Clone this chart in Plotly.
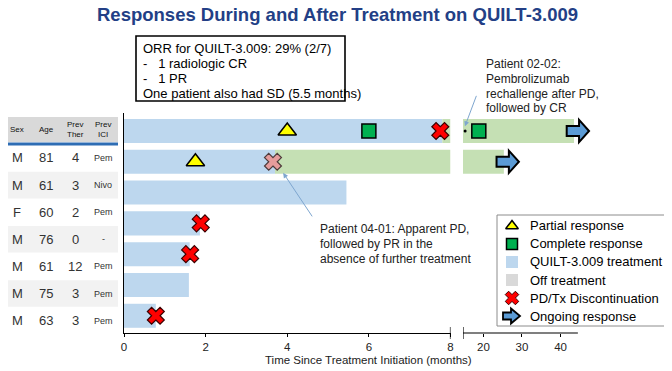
import plotly.graph_objects as go

# ---------------- data ----------------
table_headers = ["Sex", "Age", "Prev<br>Ther", "Prev<br>ICI"]
sex = ["M", "M", "F", "M", "M", "M", "M"]
age = [81, 61, 60, 76, 61, 75, 63]
prev_ther = [4, 3, 2, 0, 12, 3, 3]
prev_ici = ["Pem", "Nivo", "Pem", "-", "Pem", "Pem", "Pem"]

rows = [0, 1, 2, 3, 4, 5, 6]
tx_end = [7.8, 3.7, 5.45, 1.86, 1.61, 1.59, 0.78]          # QUILT-3.009 treatment (months)

resp_rows = [0, 1]                                        # response continuing after treatment
resp_start = [7.8, 3.7]
resp_end = [43.5, 25.3]

pr_rows, pr_time = [0, 1], [4.0, 1.75]                    # partial response
cr_rows, cr_time = [0, 0], [6.0, 18.8]                    # complete response
pd_rows, pd_time = [0, 3, 4, 6], [7.75, 1.88, 1.62, 0.78]  # PD / Tx discontinuation
apd_rows, apd_time = [1], [3.65]                          # apparent PD (pseudo-progression)
rechal_rows, rechal_time = [0], [15.25]                   # pembrolizumab rechallenge
ongoing_rows, ongoing_end = [0, 1], [43.5, 25.3]          # ongoing response

ticks_panel1 = [0, 2, 4, 6, 8]
ticks_panel2 = [20, 30, 40]
panel1_max = 8
panel2_min, panel2_axis_end = 14.7, 44.5

legend_labels = ["Partial response", "Complete response", "QUILT-3.009 treatment",
                 "Off treatment", "PD/Tx Discontinuation", "Ongoing response"]

orr_lines = ["ORR for QUILT-3.009: 29% (2/7)",
             "-\u00a0\u00a0\u00a01 radiologic CR",
             "-\u00a0\u00a0\u00a01 PR",
             "One patient also had SD (5.5 months)"]
note_0202 = ["Patient 02-02:", "Pembrolizumab", "rechallenge after PD,", "followed by CR"]
note_0401 = ["Patient 04-01: Apparent PD,", "followed by PR in the", "absence of further treatment"]

# ---------------- style ----------------
W, H = 672, 371
OFF = 8  # page body margin of the viewer
FONT = "Arial, Liberation Sans, sans-serif"
BLUE = "#BDD7EE"
GREEN = "#C5E0B4"
GREY = "#D9D9D9"
TXT = "#222222"
BARW = 0.78


def px(v):
    return (v - OFF) / W


def py(v):
    return 1 - (v - OFF) / H


fig = go.Figure()

# treatment bars
fig.add_trace(go.Bar(orientation="h", y=rows, x=tx_end, base=[0] * len(rows), width=BARW,
                     marker=dict(color=BLUE, line=dict(width=0)), xaxis="x", yaxis="y",
                     hoverinfo="skip"))
# post-treatment response bars, panel 1
fig.add_trace(go.Bar(orientation="h", y=resp_rows, base=resp_start,
                     x=[min(e, panel1_max) - s for s, e in zip(resp_start, resp_end)], width=BARW,
                     marker=dict(color=GREEN, line=dict(width=0)), xaxis="x", yaxis="y",
                     hoverinfo="skip"))
# panel 2
fig.add_trace(go.Bar(orientation="h", y=resp_rows, base=[panel2_min] * len(resp_rows),
                     x=[e - panel2_min for e in resp_end], width=BARW,
                     marker=dict(color=GREEN, line=dict(width=0)), xaxis="x2", yaxis="y",
                     hoverinfo="skip"))


def add_markers(times, rws, **mk):
    p1 = [(t, r) for t, r in zip(times, rws) if t <= panel1_max]
    p2 = [(t, r) for t, r in zip(times, rws) if t > panel1_max]
    for pts, ax in ((p1, "x"), (p2, "x2")):
        if pts:
            fig.add_trace(go.Scatter(x=[p[0] for p in pts], y=[p[1] for p in pts], mode="markers",
                                     marker=mk, xaxis=ax, yaxis="y", cliponaxis=False,
                                     hoverinfo="skip"))


add_markers(pr_time, pr_rows, symbol="triangle-up", size=16, color="#FFFF00",
            line=dict(color="black", width=1.5))
add_markers(cr_time, cr_rows, symbol="square", size=14, color="#00B050",
            line=dict(color="black", width=1.5))
add_markers(pd_time, pd_rows, symbol="x", size=15, color="#FF0000",
            line=dict(color="#3a0000", width=1.2))
add_markers(apd_time, apd_rows, symbol="x", size=15, color="#E59C9C",
            line=dict(color="#4d3b3b", width=1.2))
add_markers(rechal_time, rechal_rows, symbol="circle", size=3, color="black")

shapes = []
annotations = []


def text(x, y, t, size, color=TXT, xanchor="center", xref="paper", yref="paper"):
    annotations.append(dict(xref=xref, yref=yref, x=x, y=y, text=t, showarrow=False,
                            xanchor=xanchor, yanchor="middle", font=dict(size=size, color=color)))


# ongoing-response block arrows
for r, e in zip(ongoing_rows, ongoing_end):
    s, hb, tip = e - 1.9, e + 1.3, e + 3.9
    a, b = 0.16, 0.36
    path = (f"M{s},{r - a} L{hb},{r - a} L{hb},{r - b} L{tip},{r} L{hb},{r + b} "
            f"L{hb},{r + a} L{s},{r + a} Z")
    shapes.append(dict(type="path", xref="x2", yref="y", path=path, fillcolor="#5B9BD5",
                       line=dict(color="black", width=2), layer="above"))

# panel-2 axis line + break marks
shapes.append(dict(type="line", xref="x2", yref="paper", x0=panel2_min, x1=panel2_axis_end,
                   y0=py(333), y1=py(333), line=dict(color="black", width=1.2)))
shapes.append(dict(type="line", xref="x", yref="paper", x0=panel1_max, x1=panel1_max,
                   y0=py(327), y1=py(339), line=dict(color="black", width=1.2)))
shapes.append(dict(type="line", xref="x2", yref="paper", x0=panel2_min, x1=panel2_min,
                   y0=py(327), y1=py(339), line=dict(color="black", width=1.2)))

# ---------------- table ----------------
col_x = [17, 46, 75, 103]
shapes.append(dict(type="rect", xref="paper", yref="paper", x0=px(4), x1=px(118), y0=py(142),
                   y1=py(117), fillcolor=GREY, line=dict(width=0), layer="below"))
shapes.append(dict(type="line", xref="paper", yref="paper", x0=px(4), x1=px(118), y0=py(144),
                   y1=py(144), line=dict(color="#2E6DB4", width=3)))
for cx, h in zip(col_x, table_headers):
    text(px(cx), py(130), h, 8, "#111")
for i in range(len(rows)):
    cy = 158 + 27.1 * i
    if i % 2 == 1:
        shapes.append(dict(type="rect", xref="paper", yref="paper", x0=px(4), x1=px(118),
                           y0=py(cy + 13.3), y1=py(cy - 13.3), fillcolor="#F2F2F2",
                           line=dict(width=0), layer="below"))
    vals = [sex[i], str(age[i]), str(prev_ther[i]), prev_ici[i]]
    sizes = [13, 13, 13, 9]
    for cx, v, fs in zip(col_x, vals, sizes):
        text(px(cx), py(cy), v, fs, "#333")

# ---------------- ORR text box ----------------
shapes.append(dict(type="rect", xref="paper", yref="paper", x0=px(136), x1=px(345), y0=py(101),
                   y1=py(36), line=dict(color="black", width=1.6), fillcolor="white"))
for i, t in enumerate(orr_lines):
    text(px(141), py(48 + 15.3 * i), t, 13, "black", "left")

# ---------------- notes ----------------
for i, t in enumerate(note_0202):
    text(px(484), py(64 + 14.8 * i), t, 12, TXT, "left")
for i, t in enumerate(note_0401):
    text(px(318), py(229 + 15 * i), t, 12, TXT, "left")
annotations.append(dict(xref="x2", yref="y", x=rechal_time[0] - 0.05, y=rechal_rows[0] - 0.15,
                        ax=12, ay=-32, text="", showarrow=True, arrowhead=2, arrowsize=1,
                        arrowwidth=1, arrowcolor="#7EA6CF"))
annotations.append(dict(xref="x", yref="y", x=apd_time[0] + 0.25, y=apd_rows[0] + 0.36,
                        ax=30, ay=45, text="", showarrow=True, arrowhead=2, arrowsize=1,
                        arrowwidth=1, arrowcolor="#7EA6CF"))

# ---------------- legend ----------------
shapes.append(dict(type="rect", xref="paper", yref="paper", x0=px(497), x1=px(665), y0=py(326),
                   y1=py(215), line=dict(color="#8c8c8c", width=1), fillcolor="white",
                   layer="below"))
leg_y = [226 + 18 * i for i in range(6)]
leg_syms = [dict(symbol="triangle-up", size=11, color="#FFFF00", line=dict(color="black", width=1.5)),
            dict(symbol="square", size=11, color="#00B050", line=dict(color="black", width=1.5)),
            dict(symbol="square", size=12, color=BLUE, line=dict(width=0)),
            dict(symbol="square", size=12, color=GREY, line=dict(width=0)),
            dict(symbol="x", size=12, color="#FF0000", line=dict(color="#3a0000", width=1))]
for yy, mk in zip(leg_y, leg_syms):
    fig.add_trace(go.Scatter(x=[512], y=[yy], mode="markers", marker=mk, xaxis="x3",
                             yaxis="y3", cliponaxis=False, hoverinfo="skip"))
ay_ = leg_y[5]
shapes.append(dict(type="path", xref="x3", yref="y3",
                   path=(f"M503,{ay_ - 3.5} L511,{ay_ - 3.5} L511,{ay_ - 7.5} L520,{ay_} "
                         f"L511,{ay_ + 7.5} L511,{ay_ + 3.5} L503,{ay_ + 3.5} Z"),
                   fillcolor="#5B9BD5", line=dict(color="black", width=1.8), layer="above"))
for yy, lab in zip(leg_y, legend_labels):
    text(528, yy, lab, 13, "black", "left", "x3", "y3")

# ---------------- titles ----------------
text(px(337), py(15), "<b>Responses During and After Treatment on QUILT-3.009</b>", 18.5,
     "#233F86")
text(px(368), py(360), "Time Since Treatment Initiation (months)", 11.5, TXT)

axis_common = dict(showgrid=False, zeroline=False, ticks="outside", ticklen=3, tickwidth=1.2,
                   tickcolor="black", tickfont=dict(size=11.5, color=TXT), fixedrange=True)
fig.update_layout(
    width=W, height=H, margin=dict(l=0, r=0, t=0, b=0, autoexpand=False),
    paper_bgcolor="white", plot_bgcolor="rgba(0,0,0,0)", barmode="overlay", showlegend=False,
    font=dict(family=FONT, color=TXT),
    xaxis=dict(domain=[px(124), px(450.5)], range=[0, panel1_max], anchor="y", showline=True,
               linecolor="black", linewidth=1.2, tickvals=ticks_panel1, **axis_common),
    xaxis2=dict(domain=[px(463), px(600)], range=[panel2_min, panel2_min + 137 / 3.855],
                anchor="y", showline=False, tickvals=ticks_panel2, **axis_common),
    yaxis=dict(domain=[py(333), py(113)], range=[6.559, -0.584], anchor="x", showline=True,
               linecolor="black", linewidth=1.2, showticklabels=False, ticks="", showgrid=False,
               zeroline=False, fixedrange=True),
    xaxis3=dict(domain=[px(497), px(665)], range=[497, 665], visible=False, anchor="y3"),
    yaxis3=dict(domain=[py(326), py(215)], range=[326, 215], visible=False, anchor="x3"),
    shapes=shapes, annotations=annotations,
)

fig.write_html("out.html")
